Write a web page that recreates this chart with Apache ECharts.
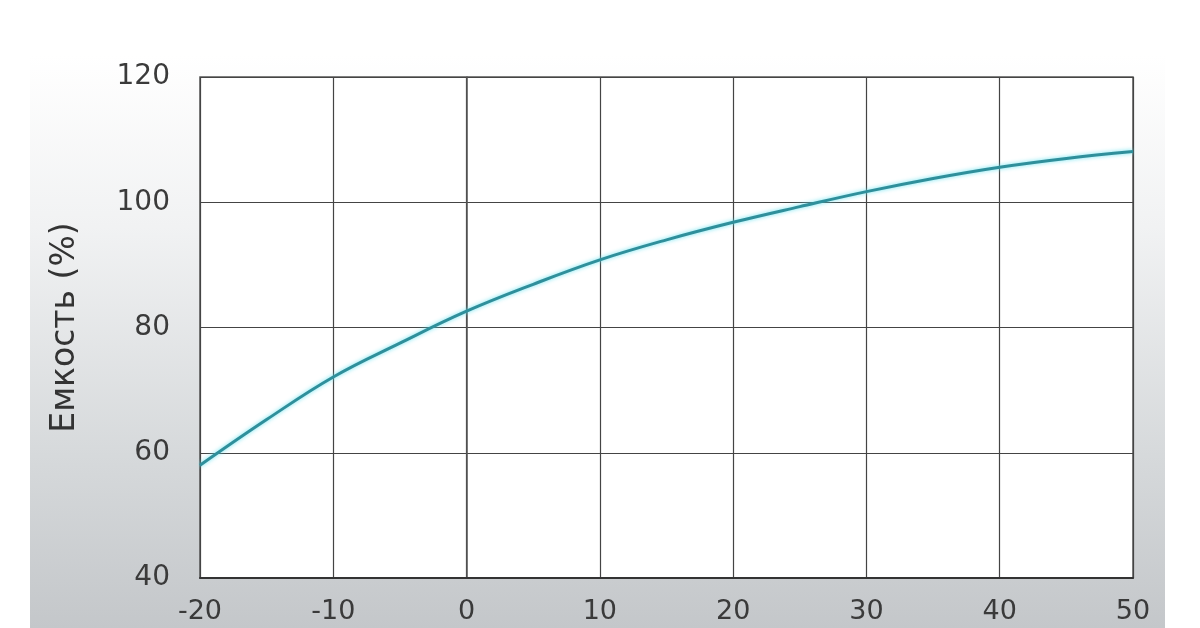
<!DOCTYPE html>
<html>
<head>
<meta charset="utf-8">
<script src="https://cdn.jsdelivr.net/npm/echarts@6/dist/echarts.min.js"></script>
<style>
  html, body { margin: 0; padding: 0; background: #fff; }
  #wrap { position: relative; width: 1200px; height: 628px; background: #fff; }
  #panel {
    position: absolute; left: 30px; top: 55px; width: 1135px; height: 573px;
    background: linear-gradient(to bottom, #ffffff 0%, #f1f2f3 30%, #d6d9db 70%, #c4c7ca 100%);
  }
  #chart { position: absolute; left: 0; top: 0; width: 1200px; height: 628px; }
</style>
</head>
<body>
<div id="wrap">
  <div id="panel"></div>
  <div id="chart"></div>
</div>
<script>
const temps = [-20, -15, -10, -5, 0, 5, 10, 15, 20, 25, 30, 35, 40, 45, 50];
const capacity = [58.0, 65.3, 72.1, 77.5, 82.6, 86.9, 90.8, 94.0, 96.8, 99.3, 101.7, 103.8, 105.6, 107.0, 108.1];
const xTicks = [-20, -10, 0, 10, 20, 30, 40, 50];
const yTicks = [40, 60, 80, 100, 120];

const chart = echarts.init(document.getElementById('chart'), null, { renderer: 'canvas' });

const labelFont = 'DejaVu Sans, Verdana, sans-serif';

const option = {
  backgroundColor: 'transparent',
  animation: false,
  grid: {
    left: 200, right: 67, top: 77, bottom: 50,
    show: true, backgroundColor: '#ffffff', borderColor: '#555', borderWidth: 1.5
  },
  xAxis: {
    type: 'value',
    min: xTicks[0], max: xTicks[xTicks.length - 1], interval: 10,
    axisLine: { show: true, lineStyle: { color: '#333', width: 2 } },
    axisTick: { show: false },
    splitLine: { show: true, lineStyle: { color: '#444', width: 1.2 } },
    axisLabel: { color: '#3a3a3a', fontSize: 27, fontFamily: labelFont, margin: 20 }
  },
  yAxis: {
    type: 'value',
    min: yTicks[0], max: yTicks[yTicks.length - 1], interval: 20,
    name: 'Емкость (%)',
    nameLocation: 'middle',
    nameGap: 118,
    nameTextStyle: { color: '#333', fontSize: 33, fontFamily: labelFont, padding: [0, 0, 0, 0] },
    axisLine: { show: true, lineStyle: { color: '#555', width: 1.5 } },
    axisTick: { show: false },
    splitLine: { show: true, lineStyle: { color: '#444', width: 1.2 } },
    axisLabel: { color: '#3a3a3a', fontSize: 28, fontFamily: labelFont, margin: 30 }
  },
  series: [{
    type: 'line',
    data: temps.map((t, i) => [t, capacity[i]]),
    smooth: 0.4,
    showSymbol: false,
    lineStyle: { color: '#2f8f9b', width: 3, shadowColor: 'rgba(90,225,240,0.9)', shadowBlur: 4 }
  }]
};

chart.setOption(option);
</script>
</body>
</html>
